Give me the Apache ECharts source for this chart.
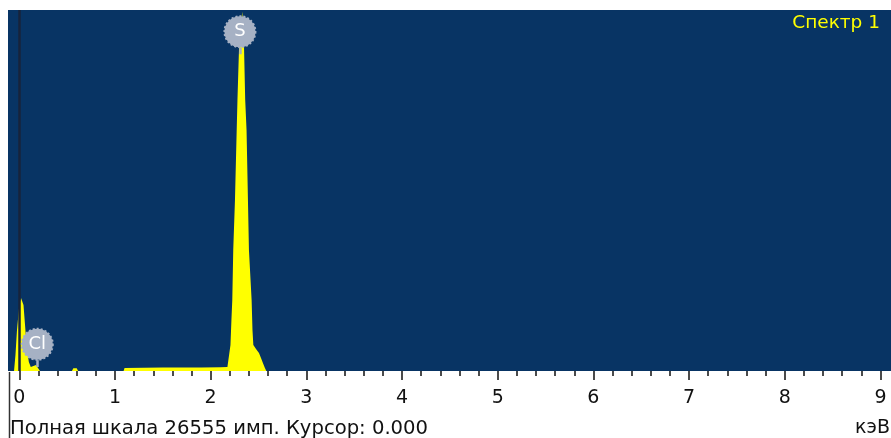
<!DOCTYPE html>
<html>
<head>
<meta charset="utf-8">
<script src="https://cdn.jsdelivr.net/npm/echarts@6/dist/echarts.min.js"></script>
<style>html,body{margin:0;padding:0;background:#fff;}#c{width:891px;height:438px;}</style>
</head>
<body>
<div id="c"></div>
<script>
// Spectrum: energy (keV) and counts (imp.)
const energy = [-0.055, -0.04, -0.024, 0.0, 0.018, 0.031, 0.044, 0.06, 0.08, 0.10, 0.12, 0.14, 0.175, 0.195, 0.216,
  0.55, 0.565, 0.60, 0.615,
  1.09, 1.10, 1.3, 1.5, 1.7, 1.9, 2.1, 2.175, 2.194, 2.207, 2.217, 2.226, 2.236, 2.254, 2.272, 2.28, 2.299, 2.33,
  2.347, 2.361, 2.375, 2.40, 2.428, 2.437, 2.446, 2.474, 2.505, 2.526, 2.546, 2.567, 2.582, 9.2];
const counts = [0, 1177, 3016, 4855, 5370, 5466, 4855, 3384, 1545, 662, 294, 368, 441, 294, 0,
  0, 199, 199, 0,
  0, 221, 240, 250, 255, 262, 275, 294, 441, 1913, 3752, 5223, 8901, 12579, 17728, 19935, 24349, 26430,
  24349, 19935, 17728, 8901, 5223, 3016, 1913, 1618, 1324, 956, 588, 221, 0, 0];
const majorTicks = [0, 1, 2, 3, 4, 5, 6, 7, 8, 9];
const minorTicks = [0.2, 0.4, 0.6, 0.8, 1.2, 1.4, 1.6, 1.8, 2.2, 2.4, 2.6, 2.8, 3.2, 3.4, 3.6, 3.8,
  4.2, 4.4, 4.6, 4.8, 5.2, 5.4, 5.6, 5.8, 6.2, 6.4, 6.6, 6.8, 7.2, 7.4, 7.6, 7.8, 8.2, 8.4, 8.6, 8.8];
const peakLabels = ['S', 'Cl'];
const peakEnergy = [2.306, 0.188];
const peakLabelCounts = [24960, 1964];
const stemTop = [23800, 800];
const stemBottom = [23300, 294];
const fullScale = 26555;
const xMin = -0.118, xMax = 9.11;

const chart = echarts.init(document.getElementById('c'));
const font = 'DejaVu Sans';
const gray = '#a6b1c4';
const data = energy.map((e, i) => [e, counts[i]]);

chart.setOption({
  animation: false,
  backgroundColor: '#ffffff',
  title: [
    { text: 'Спектр 1', right: 11, top: 14, padding: 0,
      textStyle: { color: '#ffff00', fontSize: 18.5, fontWeight: 'normal', fontFamily: font } },
    { text: 'Полная шкала 26555 имп. Курсор: 0.000', left: 10, top: 419, padding: 0,
      textStyle: { color: '#111', fontSize: 19.6, fontWeight: 'normal', fontFamily: font } },
    { text: 'кэВ', right: 1, top: 419, padding: 0,
      textStyle: { color: '#111', fontSize: 19, fontWeight: 'normal', fontFamily: font } }
  ],
  grid: { left: 8, right: 0, top: 10, bottom: 67, show: true, backgroundColor: '#083464', borderWidth: 0 },
  xAxis: [
    { type: 'value', min: xMin, max: xMax, position: 'bottom',
      axisLine: { show: false }, splitLine: { show: false },
      axisTick: { show: true, length: 9, customValues: majorTicks, lineStyle: { color: '#111', width: 1.5 } },
      axisLabel: { show: true, customValues: majorTicks, margin: 18, color: '#111', fontSize: 19, fontFamily: font } },
    { type: 'value', min: xMin, max: xMax, position: 'bottom',
      axisLine: { show: false }, splitLine: { show: false },
      axisTick: { show: true, length: 5, customValues: minorTicks, lineStyle: { color: '#111', width: 1.5 } },
      axisLabel: { show: false } }
  ],
  yAxis: { type: 'value', min: 0, max: fullScale, show: false, splitLine: { show: false } },
  graphic: [
    { type: 'line', shape: { x1: 9.5, y1: 372, x2: 9.5, y2: 438 }, style: { stroke: '#333', lineWidth: 1.5 } }
  ],
  series: [{
    type: 'line',
    xAxisIndex: 0,
    data: data,
    showSymbol: false,
    smooth: false,
    lineStyle: { color: '#ffff00', width: 0 },
    areaStyle: { color: '#ffff00', opacity: 1 },
    silent: true,
    markLine: {
      silent: true, symbol: 'none', animation: false,
      label: { show: false },
      data: [
        { xAxis: 0, lineStyle: { color: '#17233b', width: 2.5, type: 'solid' } }
      ].concat(peakEnergy.map((e, i) => [
        { coord: [e, stemTop[i]], lineStyle: { color: gray, width: 2.5, type: 'solid' } },
        { coord: [e, stemBottom[i]] }
      ]))
    },
    markPoint: {
      silent: true, symbol: 'circle', symbolSize: 31,
      itemStyle: { color: gray, borderColor: gray, borderWidth: 2, borderType: [2, 2] },
      label: { show: true, position: 'inside', color: '#ffffff', fontSize: 18, fontFamily: font },
      data: peakEnergy.map((e, i) => ({ coord: [e, peakLabelCounts[i]], value: peakLabels[i],
        label: { formatter: peakLabels[i] } }))
    }
  }]
});
</script>
</body>
</html>
